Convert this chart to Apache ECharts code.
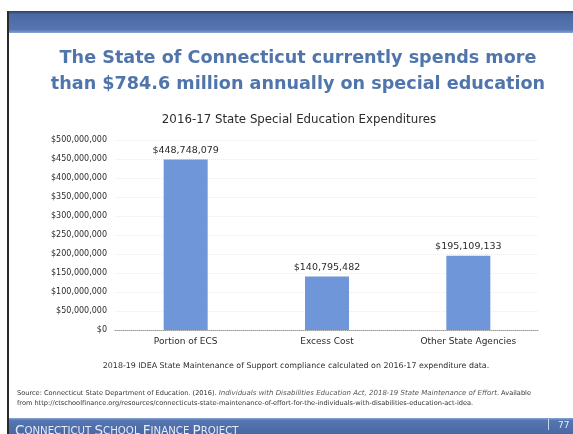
<!DOCTYPE html>
<html>
<head>
<meta charset="utf-8">
<script src="https://cdn.jsdelivr.net/npm/echarts@6/dist/echarts.min.js"></script>
<style>
  html, body { margin: 0; padding: 0; background: #fff; }
  #chart { width: 573px; height: 434px; }
</style>
</head>
<body>
<div id="chart"></div>
<script>
// Spending categories and amounts (USD), 2016-17
const categories = ['Portion of ECS', 'Excess Cost', 'Other State Agencies'];
const spending = [448748079, 140795482, 195109133];
const yTicks = { min: 0, max: 500000000, interval: 50000000 };

const FONT = '"DejaVu Sans", "Open Sans", sans-serif';
const money = v => '$' + Math.round(v).toString().replace(/\B(?=(\d{3})+(?!\d))/g, ',');

const chart = echarts.init(document.getElementById('chart'), null, { renderer: 'canvas' });

chart.setOption({
  backgroundColor: '#ffffff',
  animation: false,
  title: [
    {
      text: 'The State of Connecticut currently spends more\nthan $784.6 million annually on special education',
      left: 293, top: 40, textAlign: 'center',
      textStyle: { fontFamily: FONT, fontSize: 17.6, fontWeight: 'bold', color: '#5075ab', lineHeight: 26 }
    },
    {
      text: '2016-17 State Special Education Expenditures',
      left: 294, top: 109, textAlign: 'center',
      textStyle: { fontFamily: FONT, fontSize: 11.8, fontWeight: 'normal', color: '#2b2b2b' }
    }
  ],
  grid: { left: 115, right: 34, top: 140, bottom: 104, containLabel: false },
  xAxis: {
    type: 'category',
    data: categories,
    axisTick: { show: false },
    axisLine: { show: true, lineStyle: { color: '#9a9a9a', type: 'dotted', width: 1 } },
    axisLabel: { fontFamily: FONT, fontSize: 9, color: '#2b2b2b', margin: 7 }
  },
  yAxis: {
    type: 'value',
    min: yTicks.min, max: yTicks.max, interval: yTicks.interval,
    axisLine: { show: false },
    axisTick: { show: false },
    splitLine: { show: true, lineStyle: { color: '#ececec', type: 'dotted', width: 1 } },
    axisLabel: { fontFamily: FONT, fontSize: 8, color: '#2b2b2b', margin: 8, formatter: money }
  },
  series: [{
    type: 'bar',
    data: spending,
    barWidth: 44,
    itemStyle: { color: '#6f96d9' },
    label: {
      show: true, position: 'top', distance: 4,
      fontFamily: FONT, fontSize: 9.5, color: '#2b2b2b',
      formatter: p => money(p.value)
    }
  }],
  graphic: [
    // slide top band
    { type: 'rect', shape: { x: 9, y: 11, width: 564, height: 22 },
      style: { fill: new echarts.graphic.LinearGradient(0, 0, 0, 1, [
        { offset: 0, color: '#2d3f66' }, { offset: 0.15, color: '#4b68a3' },
        { offset: 0.85, color: '#5676b2' }, { offset: 1, color: '#8aa6d6' }]) }, z: 1 },
    // left slide edge
    { type: 'rect', shape: { x: 7, y: 11, width: 2, height: 423 }, style: { fill: '#2a2a2a' }, z: 1 },
    // footnote under chart
    { type: 'text', x: 296, y: 362, z: 5,
      style: { text: '2018-19 IDEA State Maintenance of Support compliance calculated on 2016-17 expenditure data.',
        align: 'center', fontFamily: FONT, fontSize: 7.9, fill: '#2e2e2e' } },
    // source citation
    { type: 'text', x: 17, y: 388, z: 5,
      style: {
        text: '{n|Source: Connecticut State Department of Education. (2016). }{i|Individuals with Disabilities Education Act, 2018-19 State Maintenance of Effort}{n|. Available}\n{n|from http://ctschoolfinance.org/resources/connecticuts-state-maintenance-of-effort-for-the-individuals-with-disabilities-education-act-idea.}',
        rich: {
          n: { fontFamily: FONT, fontSize: 6.6, fill: '#333', lineHeight: 10 },
          i: { fontFamily: FONT, fontSize: 7, fontStyle: 'italic', fill: '#555', lineHeight: 10 }
        }
      } },
    // bottom band
    { type: 'rect', shape: { x: 9, y: 418, width: 564, height: 16 },
      style: { fill: new echarts.graphic.LinearGradient(0, 0, 0, 1, [
        { offset: 0, color: '#8aa6d6' }, { offset: 0.15, color: '#5676b2' }, { offset: 1, color: '#4a68a2' }]) }, z: 1 },
    { type: 'text', x: 15, y: 424, z: 5,
      style: {
        text: '{b|C}{s|ONNECTICUT }{b|S}{s|CHOOL }{b|F}{s|INANCE }{b|P}{s|ROJECT}',
        rich: {
          b: { fontFamily: FONT, fontSize: 13.5, fill: '#e6ecf6' },
          s: { fontFamily: FONT, fontSize: 10.2, fill: '#e6ecf6' }
        }
      } },
    { type: 'rect', shape: { x: 548, y: 419, width: 1, height: 11 }, style: { fill: '#c9d5ec' }, z: 5 },
    { type: 'text', x: 558, y: 421, z: 5,
      style: { text: '77', fontFamily: FONT, fontSize: 9, fill: '#e6ecf6' } }
  ]
});
</script>
</body>
</html>
